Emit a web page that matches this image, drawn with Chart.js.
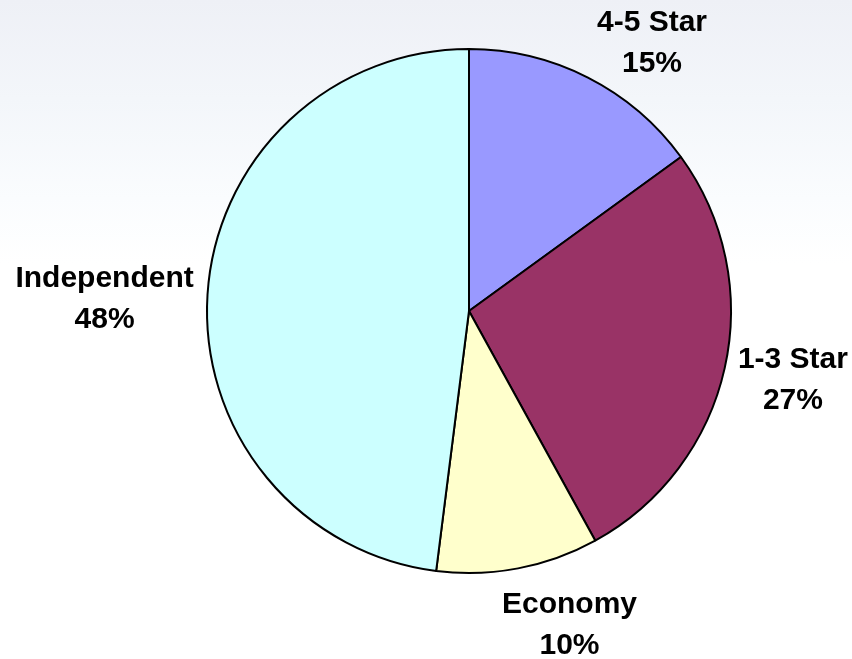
<!DOCTYPE html>
<html>
<head>
<meta charset="utf-8">
<script src="https://cdn.jsdelivr.net/npm/chart.js@4"></script>
<style>
  html, body { margin: 0; padding: 0; }
  body {
    width: 852px;
    height: 659px;
    background: linear-gradient(to bottom, #eef0f6 0%, #f3f6fa 15%, #fafcfe 30%, #ffffff 40%);
  }
  #wrap { width: 852px; height: 659px; }
</style>
</head>
<body>
<div id="wrap"><canvas id="pieChart" width="852" height="659"></canvas></div>
<script>
const categories = ["4-5 Star", "1-3 Star", "Economy", "Independent"];
const shares = [15, 27, 10, 48]; // percent
const sliceColors = ["#9999ff", "#993366", "#ffffcc", "#ccffff"];

// outside labels: placed from each arc's mid angle, small nudges to match the original
const outsideLabels = {
  id: "outsideLabels",
  afterDatasetsDraw(chart, args, opts) {
    const ctx = chart.ctx;
    const meta = chart.getDatasetMeta(0);
    const lh = opts.lineHeight;
    ctx.save();
    ctx.font = opts.font;
    ctx.fillStyle = "#000";
    ctx.textAlign = "center";
    ctx.textBaseline = "middle";
    meta.data.forEach((arc, i) => {
      const p = arc.getProps(["x", "y", "startAngle", "endAngle", "outerRadius"], true);
      const mid = (p.startAngle + p.endAngle) / 2;
      const dx = Math.cos(mid), dy = Math.sin(mid);
      const l1 = chart.data.labels[i];
      const l2 = chart.data.datasets[0].data[i] + "%";
      const w = Math.max(ctx.measureText(l1).width, ctx.measureText(l2).width);
      const h = lh * 2;
      const r = p.outerRadius + opts.pad;
      const nudge = opts.nudge[i] || [0, 0];
      const cx = p.x + dx * r + dx * w / 2 + nudge[0];
      const cy = p.y + dy * r + dy * h / 2 + nudge[1];
      ctx.fillText(l1, cx, cy - lh / 2);
      ctx.fillText(l2, cx, cy + lh / 2);
    });
    ctx.restore();
  }
};

window.onload = function () {
  const ctx = document.getElementById("pieChart").getContext("2d");
  new Chart(ctx, {
    type: "pie",
    data: {
      labels: categories,
      datasets: [
        {
          data: shares,
          backgroundColor: sliceColors,
          borderColor: "#000000",
          borderWidth: 2,
        },
      ],
    },
    options: {
      responsive: false,
      animation: false,
      layout: {
        padding: { left: 206, top: 48, right: 120, bottom: 85 },
      },
      plugins: {
        legend: { display: false },
        tooltip: { enabled: false },
        outsideLabels: {
          font: "bold 30px 'Liberation Sans', Arial, sans-serif",
          lineHeight: 41,
          pad: 20,
          nudge: [[30, 20], [-5, -1], [35, -3], [6, 9]],
        },
      },
    },
    plugins: [outsideLabels],
  });
};
</script>
</body>
</html>
